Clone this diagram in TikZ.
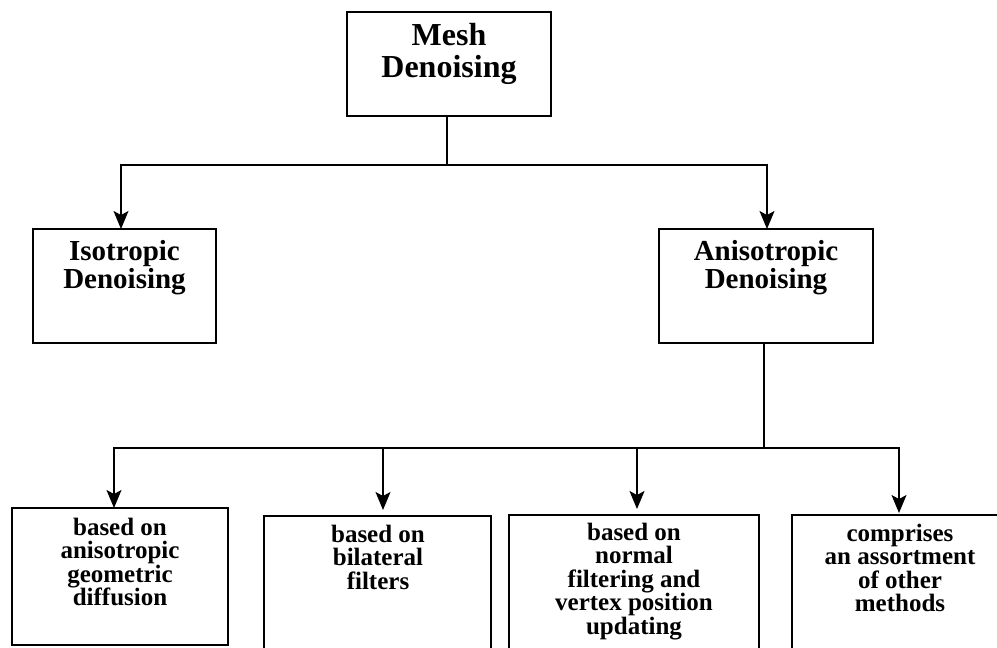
\documentclass[tikz,border=0pt]{standalone}
\usepackage{fontspec}
\setmainfont{Liberation Serif}
\usetikzlibrary{arrows.meta}

% centred lines in a \vtop, so that the base anchor is the first baseline
\newcommand{\boxlines}[1]{\vtop{\halign{\hfil##\hfil\cr#1\crcr}}}

\tikzset{
  frame/.style={draw, line width=1.6pt, inner sep=0pt},
  label top/.style={font=\bfseries\fontsize{32}{32}\selectfont, anchor=base, inner sep=0pt},
  label mid/.style={font=\bfseries\fontsize{29}{28}\selectfont, anchor=base, inner sep=0pt},
  label low/.style={font=\bfseries\fontsize{25}{23.5}\selectfont, anchor=base, inner sep=0pt},
  link/.style={line width=1.3pt},
  feed/.style={line width=1.3pt, -{Stealth[length=18pt, width=15pt, inset=4pt]}}
}

\begin{document}
\begin{tikzpicture}[x=1pt, y=-1pt]
  \clip (0,0) rectangle (997,648);
  \fill[white] (0,0) rectangle (997,648);

  % boxes
  \draw[frame] (347,12) rectangle (551,116);
  \coordinate (top) at (447,116);
  \node[label top] (toptext) at (449,45) {\boxlines{Mesh\cr Denoising}};

  \draw[frame] (33,229) rectangle (216,343);
  \coordinate (isotop) at (121,229);
  \node[label mid] (isotext) at (124.5,260) {\boxlines{Isotropic\cr Denoising}};

  \draw[frame] (659,229) rectangle (873,343);
  \coordinate (anitop) at (767,229);
  \coordinate (anibot) at (764,343);
  \node[label mid] (anitext) at (766,260) {\boxlines{Anisotropic\cr Denoising}};

  \draw[frame] (12,508) rectangle (228,645);
  \coordinate (atop) at (114,508);
  \node[label low] (atext) at (120,535) {\boxlines{based on\cr anisotropic\cr geometric\cr diffusion}};

  \draw[frame] (264,516) rectangle (491,670);
  \coordinate (btop) at (383,510);
  \node[label low] (btext) at (378,542) {\boxlines{based on\cr bilateral\cr filters}};

  \draw[frame] (509,515) rectangle (759,670);
  \coordinate (ctop) at (637,509);
  \node[label low] (ctext) at (634,540) {\boxlines{based on\cr normal\cr filtering and\cr vertex position\cr updating}};

  \draw[frame] (792,515) rectangle (1010,670);
  \coordinate (dtop) at (899,513);
  \node[label low] (dtext) at (900,541) {\boxlines{comprises\cr an assortment\cr of other\cr methods}};

  % connectors
  \coordinate (j1) at (447,165);
  \coordinate (j2) at (764,448);
  \draw[link] (top) -- (j1);
  \draw[feed] (j1) -| (isotop);
  \draw[feed] (j1) -| (anitop);

  \draw[link] (anibot) -- (j2);
  \draw[feed] (j2) -| (atop);
  \draw[feed] (j2) -| (btop);
  \draw[feed] (j2) -| (ctop);
  \draw[feed] (j2) -| (dtop);
\end{tikzpicture}
\end{document}
